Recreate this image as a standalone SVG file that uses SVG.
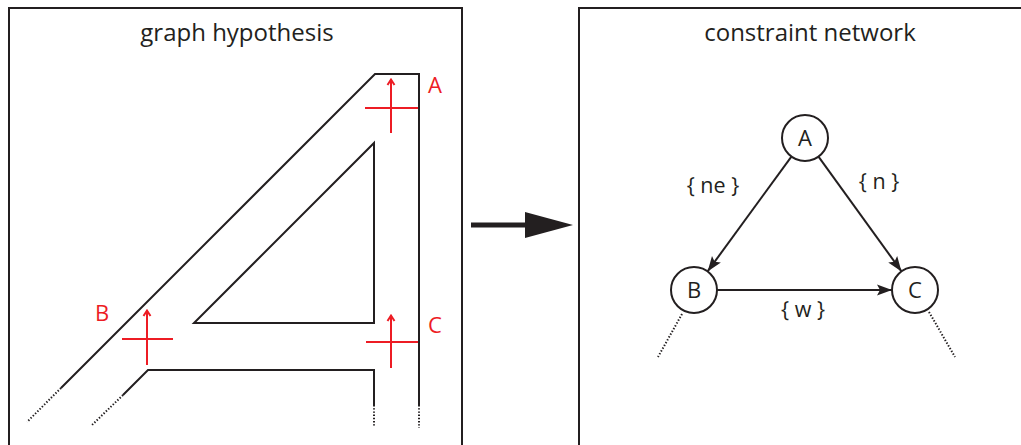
<svg xmlns="http://www.w3.org/2000/svg" width="1021" height="445" viewBox="0 0 1021 445">
<style>
.frame{fill:none;stroke:#231f20;stroke-width:2}
.shape{fill:none;stroke:#231f20;stroke-width:2;stroke-linejoin:miter}
.dot{fill:none;stroke:#231f20;stroke-width:2;stroke-dasharray:1.4,1.8}
.red{fill:none;stroke:#ed1c24;stroke-width:2}
.redtxt{font-family:"Open Sans","Noto Sans",sans-serif;font-size:22px;fill:#ed1c24}
.title{font-family:"Open Sans","Noto Sans",sans-serif;font-size:24px;fill:#231f20;text-anchor:middle}
.node circle{fill:#fff;stroke:#231f20;stroke-width:2}
.node text{font-family:"Open Sans","Noto Sans",sans-serif;font-size:22px;fill:#231f20;text-anchor:middle}
.edge{fill:none;stroke:#231f20;stroke-width:2}
.elabel{font-family:"Open Sans","Noto Sans",sans-serif;font-size:21.5px;fill:#231f20;text-anchor:middle}
</style>
<defs>
<marker id="ah" markerUnits="userSpaceOnUse" markerWidth="16" markerHeight="12" refX="15" refY="6" orient="auto">
<path d="M0,0.5 L15,6 L0,11.5 L3,6 z" fill="#231f20"/>
</marker>
</defs>
<rect width="1021" height="445" fill="#fff"/>

<g id="panel-left">
<path class="frame" d="M9,460 V8 H462 V460"/>
<text class="title" x="237" y="41">graph hypothesis</text>
<g id="shape">
<path class="shape" d="M61,388 L375,74 H419 V405"/>
<path class="dot" d="M61,388 L27,422"/>
<path class="dot" d="M419,405 V428"/>
<path class="shape" d="M374,143 V323 H194 Z"/>
<path class="shape" d="M123,395 L148,370 H374 V405"/>
<path class="dot" d="M123,395 L92,425"/>
<path class="dot" d="M374,405 V427"/>
</g>
<g id="cross-A">
<path class="red" d="M365,108 H418 M391,133 V80 M387.5,85 L391,79.5 L394.5,85"/>
<text class="redtxt" x="428" y="93">A</text>
</g>
<g id="cross-B">
<path class="red" d="M122,339 H173 M147,365 V311 M143.5,316 L147,310.5 L150.5,316"/>
<text class="redtxt" x="95" y="321">B</text>
</g>
<g id="cross-C">
<path class="red" d="M366,342 H418 M391,368 V316 M387.5,321 L391,315.5 L394.5,321"/>
<text class="redtxt" x="428" y="333">C</text>
</g>
</g>

<g id="transition-arrow">
<path d="M471,225 H527" stroke="#231f20" stroke-width="5" fill="none"/>
<path d="M525,212 L573,225 L525,238 Z" fill="#231f20"/>
</g>

<g id="panel-right">
<path class="frame" d="M579,460 V8 H1030"/>
<text class="title" x="810" y="41">constraint network</text>
</g>

<g id="connectors">
<path class="edge" d="M791.4,156.6 L707.6,271.4" marker-end="url(#ah)"/>
<path class="edge" d="M818.5,156.6 L901.5,271.4" marker-end="url(#ah)"/>
<path class="edge" d="M717,290 L892,290" marker-end="url(#ah)"/>
<path class="dot" d="M682,314 L658,357"/>
<path class="dot" d="M929,312 L955,357"/>
<text class="elabel" x="713" y="193">{ ne }</text>
<text class="elabel" x="879" y="189">{ n }</text>
<text class="elabel" x="803" y="317">{ w }</text>
</g>

<g id="node-A" class="node">
<circle cx="805" cy="138" r="23"/>
<text x="805" y="146">A</text>
</g>
<g id="node-B" class="node">
<circle cx="694" cy="290" r="23"/>
<text x="694" y="298">B</text>
</g>
<g id="node-C" class="node">
<circle cx="915" cy="290" r="23"/>
<text x="915" y="298">C</text>
</g>
</svg>
